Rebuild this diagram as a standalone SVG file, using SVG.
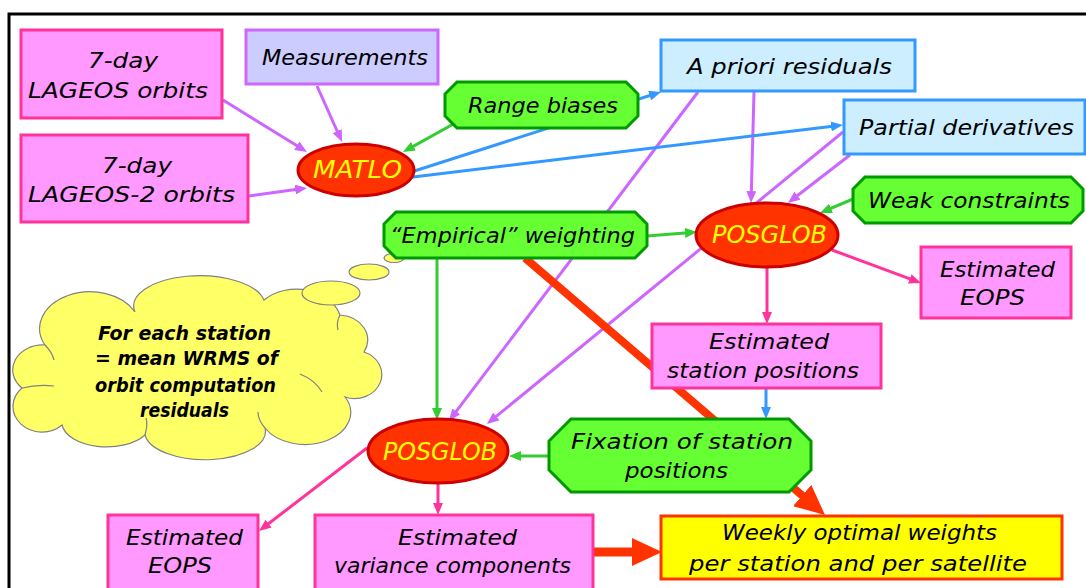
<svg xmlns="http://www.w3.org/2000/svg" width="1086" height="588" viewBox="0 0 1086 588">
<style>
.t{font-family:"DejaVu Sans","Liberation Sans",sans-serif;font-style:italic;font-size:22px;fill:#000;text-anchor:middle}
.e{font-family:"DejaVu Sans","Liberation Sans",sans-serif;font-style:italic;font-size:24px;fill:#ffff00;text-anchor:middle}
.c{font-family:"DejaVu Sans","Liberation Sans",sans-serif;font-style:italic;font-weight:bold;font-size:19px;fill:#000;text-anchor:middle}
.pk{fill:#ff99ff;stroke:#ff3399;stroke-width:3}
.lv{fill:#ccccff;stroke:#cc66ff;stroke-width:3}
.lb{fill:#cceeff;stroke:#3399ff;stroke-width:3}
.gr{fill:#66ff33;stroke:#009900;stroke-width:3}
.el{fill:#ff3300;stroke:#cc0000;stroke-width:3}
.yl{fill:#ffff00;stroke:#ff3300;stroke-width:3}
.lp{stroke:#cc66ff;stroke-width:3;fill:none;marker-end:url(#ap)}
.lg{stroke:#33cc33;stroke-width:3;fill:none;marker-end:url(#ag)}
.lbl{stroke:#3399ff;stroke-width:3;fill:none;marker-end:url(#ab)}
.lk{stroke:#ff3399;stroke-width:3;fill:none;marker-end:url(#ak)}
.lr{stroke:#ff3300;stroke-width:8;fill:none;marker-end:url(#ar)}
.cl{fill:#ffff66;stroke:#808080;stroke-width:1.2}
.cr{fill:none;stroke:#808080;stroke-width:1.2}
</style>
<defs>
<marker id="ap" viewBox="0 0 12 10" markerWidth="12" markerHeight="10" refX="6" refY="5" orient="auto" markerUnits="userSpaceOnUse"><path d="M0,0 L12,5 L0,10 z" fill="#cc66ff"/></marker>
<marker id="ag" viewBox="0 0 12 10" markerWidth="12" markerHeight="10" refX="6" refY="5" orient="auto" markerUnits="userSpaceOnUse"><path d="M0,0 L12,5 L0,10 z" fill="#33cc33"/></marker>
<marker id="ab" viewBox="0 0 12 10" markerWidth="12" markerHeight="10" refX="6" refY="5" orient="auto" markerUnits="userSpaceOnUse"><path d="M0,0 L12,5 L0,10 z" fill="#3399ff"/></marker>
<marker id="ak" viewBox="0 0 12 10" markerWidth="12" markerHeight="10" refX="6" refY="5" orient="auto" markerUnits="userSpaceOnUse"><path d="M0,0 L12,5 L0,10 z" fill="#ff3399"/></marker>
<marker id="ar" viewBox="0 0 30 28" markerWidth="30" markerHeight="28" refX="10" refY="14" orient="auto" markerUnits="userSpaceOnUse"><path d="M0,0 L30,14 L0,28 z" fill="#ff3300"/></marker>
</defs>
<rect x="0" y="0" width="1086" height="588" fill="#ffffff"/>
<rect x="9" y="14" width="1100" height="600" fill="#ffffff" stroke="#000000" stroke-width="3"/>

<g id="thought-cloud">
<path class="cl" d="M45,345 A48,35 0 0 1 135,312 A65,30 0 0 1 264,300 A45,35 0 0 1 340,315 A30,25 0 0 1 364,352 A25,22 0 0 1 345,397 A40,28 0 0 1 265,428 A60,28 0 0 1 145,435 A45,25 0 0 1 62,425 A25,22 0 0 1 22,388 A30,25 0 0 1 45,345 Z"/>
<path class="cr" d="M45,345 Q52,352 54,360"/>
<path class="cr" d="M22,388 Q38,384 54,386"/>
<path class="cr" d="M300,374 Q315,380 322,392"/>
<path class="cr" d="M145,435 Q148,425 146,418"/>
<path class="cr" d="M265,428 Q258,420 258,412"/>
<path class="cr" d="M340,315 Q336,322 338,330"/>
<ellipse class="cl" cx="331" cy="293" rx="29" ry="12"/>
<ellipse class="cl" cx="369" cy="272" rx="20" ry="8"/>
<ellipse class="cl" cx="394" cy="258" rx="10" ry="4.5"/>
<text class="c" x="184.5" y="340" textLength="173" lengthAdjust="spacingAndGlyphs">For each station</text>
<text class="c" x="186.5" y="365" textLength="183" lengthAdjust="spacingAndGlyphs">= mean WRMS of</text>
<text class="c" x="185.5" y="392" textLength="181" lengthAdjust="spacingAndGlyphs">orbit computation</text>
<text class="c" x="184.5" y="417" textLength="89" lengthAdjust="spacingAndGlyphs">residuals</text>
</g>

<g id="connectors">
<line class="lp" x1="223" y1="100" x2="301.9" y2="148.8"/>
<line class="lp" x1="249" y1="196" x2="301.1" y2="188.8"/>
<line class="lp" x1="317" y1="86" x2="339.6" y2="136.5"/>
<line class="lp" x1="698" y1="92" x2="452.6" y2="416.2"/>
<line class="lp" x1="754" y1="92" x2="751.2" y2="197"/>
<line class="lp" x1="843" y1="132" x2="491.6" y2="420.2"/>
<line class="lp" x1="850" y1="155" x2="792.7" y2="199.3"/>
<line class="lg" x1="457" y1="122" x2="408.2" y2="149.1"/>
<line class="lg" x1="853" y1="199" x2="825.5" y2="210.7"/>
<line class="lg" x1="647" y1="236" x2="691" y2="232.5"/>
<line class="lg" x1="437" y1="258" x2="437" y2="414"/>
<line class="lg" x1="549" y1="456" x2="515" y2="456"/>
<line class="lbl" x1="405" y1="174" x2="655.3" y2="93.8"/>
<line class="lbl" x1="405" y1="178" x2="837" y2="125.7"/>
<line class="lbl" x1="766" y1="388" x2="766" y2="413"/>
<line class="lk" x1="767" y1="267" x2="767" y2="318"/>
<line class="lk" x1="832" y1="250" x2="915.4" y2="280.9"/>
<line class="lk" x1="367" y1="448" x2="263.8" y2="527.3"/>
<line class="lk" x1="438" y1="483" x2="438" y2="509"/>
<line class="lr" x1="525" y1="258" x2="809.8" y2="502"/>
<line class="lr" x1="593" y1="552" x2="642" y2="552" style="stroke-width:9"/>
</g>

<g id="lageos-orbits">
<rect class="pk" x="21" y="30" width="201" height="88"/>
<text class="t" x="123" y="68" textLength="70" lengthAdjust="spacingAndGlyphs">7-day</text>
<text class="t" x="118" y="98" textLength="180" lengthAdjust="spacingAndGlyphs">LAGEOS orbits</text>
</g>
<g id="lageos2-orbits">
<rect class="pk" x="21" y="135" width="227" height="87"/>
<text class="t" x="137" y="173" textLength="70" lengthAdjust="spacingAndGlyphs">7-day</text>
<text class="t" x="131.5" y="202" textLength="207" lengthAdjust="spacingAndGlyphs">LAGEOS-2 orbits</text>
</g>
<g id="measurements">
<rect class="lv" x="246" y="30" width="192" height="54"/>
<text class="t" x="345" y="65" textLength="166" lengthAdjust="spacingAndGlyphs">Measurements</text>
</g>
<g id="matlo">
<ellipse class="el" cx="356" cy="170" rx="58" ry="26"/>
<text class="e" x="357.5" y="178" textLength="89" lengthAdjust="spacingAndGlyphs">MATLO</text>
</g>
<g id="range-biases">
<polygon class="gr" points="457,82 626,82 638,94 638,116 626,128 457,128 445,116 445,94"/>
<text class="t" x="543" y="113" textLength="150" lengthAdjust="spacingAndGlyphs">Range biases</text>
</g>
<g id="a-priori-residuals">
<rect class="lb" x="661" y="40" width="254" height="51"/>
<text class="t" x="789.5" y="74" textLength="205" lengthAdjust="spacingAndGlyphs">A priori residuals</text>
</g>
<g id="partial-derivatives">
<rect class="lb" x="844" y="100" width="241" height="54"/>
<text class="t" x="966.5" y="135" textLength="215" lengthAdjust="spacingAndGlyphs">Partial derivatives</text>
</g>
<g id="weak-constraints">
<polygon class="gr" points="865,177 1071,177 1083,189 1083,211 1071,223 865,223 853,211 853,189"/>
<text class="t" x="969" y="208" textLength="202" lengthAdjust="spacingAndGlyphs">Weak constraints</text>
</g>
<g id="empirical-weighting">
<polygon class="gr" points="396,212 635,212 647,224 647,246 635,258 396,258 384,246 384,224"/>
<text class="t" x="512.5" y="243" textLength="245" lengthAdjust="spacingAndGlyphs">“Empirical” weighting</text>
</g>
<g id="posglob-top">
<ellipse class="el" cx="767" cy="235" rx="71" ry="32"/>
<text class="e" x="769.5" y="243" textLength="115" lengthAdjust="spacingAndGlyphs">POSGLOB</text>
</g>
<g id="estimated-eops-right">
<rect class="pk" x="921" y="247" width="150" height="71"/>
<text class="t" x="997.5" y="277" textLength="115" lengthAdjust="spacingAndGlyphs">Estimated</text>
<text class="t" x="992.5" y="305" textLength="65" lengthAdjust="spacingAndGlyphs">EOPS</text>
</g>
<g id="estimated-station-positions">
<rect class="pk" x="652" y="324" width="229" height="64"/>
<text class="t" x="769" y="349" textLength="120" lengthAdjust="spacingAndGlyphs">Estimated</text>
<text class="t" x="763" y="378" textLength="192" lengthAdjust="spacingAndGlyphs">station positions</text>
</g>
<g id="fixation-station-positions">
<polygon class="gr" points="571,419 789,419 811,441 811,470 789,492 571,492 549,470 549,441"/>
<text class="t" x="682" y="449" textLength="222" lengthAdjust="spacingAndGlyphs">Fixation of station</text>
<text class="t" x="676.5" y="478" textLength="103" lengthAdjust="spacingAndGlyphs">positions</text>
</g>
<g id="posglob-bottom">
<ellipse class="el" cx="438" cy="451" rx="70" ry="32"/>
<text class="e" x="440" y="460" textLength="114" lengthAdjust="spacingAndGlyphs">POSGLOB</text>
</g>
<g id="estimated-eops-bottom">
<rect class="pk" x="108" y="515" width="150" height="80"/>
<text class="t" x="184.5" y="545" textLength="117" lengthAdjust="spacingAndGlyphs">Estimated</text>
<text class="t" x="180" y="573" textLength="64" lengthAdjust="spacingAndGlyphs">EOPS</text>
</g>
<g id="estimated-variance-components">
<rect class="pk" x="315" y="515" width="278" height="80"/>
<text class="t" x="457.5" y="545" textLength="119" lengthAdjust="spacingAndGlyphs">Estimated</text>
<text class="t" x="452.5" y="573" textLength="237" lengthAdjust="spacingAndGlyphs">variance components</text>
</g>
<g id="weekly-optimal-weights">
<rect class="yl" x="661" y="516" width="401" height="63"/>
<text class="t" x="859.5" y="540" textLength="275" lengthAdjust="spacingAndGlyphs">Weekly optimal weights</text>
<text class="t" x="858" y="571" textLength="338" lengthAdjust="spacingAndGlyphs">per station and per satellite</text>
</g>
</svg>
